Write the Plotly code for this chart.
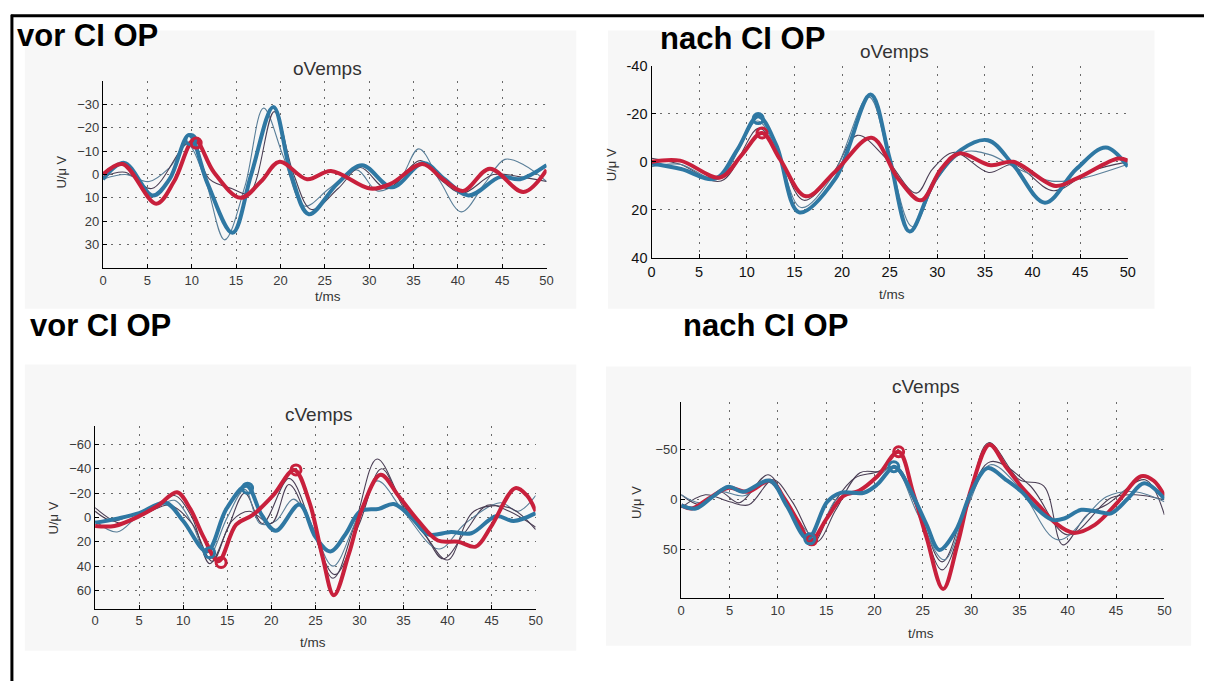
import plotly.graph_objects as go

W, H = 1212, 689

# ---------------- Panel 1: vor CI OP, oVemps ----------------
p1_blue_t = [0, 2.4, 5.6, 7.5, 9.7, 11.8, 14.6, 16.7, 19.2, 21.2, 23.2, 26.4, 29.2, 32.6, 36.1, 38.5, 41.2, 44.8, 47, 50]
p1_blue_v = [2, -5, 9, 2, -17, 4, 25, 0, -29, 0, 17, 4, -4, 5.5, -5, 2, 9, 1, 2, -4]
p1_red_t = [0, 2.2, 6.0, 8.0, 10.3, 12.5, 15.5, 17.8, 19.9, 23, 25.7, 30.1, 32.4, 36, 38.3, 40.6, 43.6, 47.4, 50]
p1_red_v = [0, -4.5, 12.5, 3, -15, -1, 10, 3, -5.5, 2, -1.5, 6, 4, -4.5, 2, 7, -2.5, 7.5, -2]
p1_thinA_t = [0, 2.5, 5.2, 7.5, 9.5, 11.5, 13.7, 16, 18.1, 20.3, 22.7, 25.5, 28.6, 30.9, 33.3, 35.6, 38, 40.4, 43, 45.3, 47.5, 50]
p1_thinA_v = [2, 0, 3, -3, -13, 2, 28, 5, -28.5, -8, 13.5, 6, -2, 7, 3, -11, 3, 16, 4, -6.5, -4, 3]
p1_thinB_t = [0, 2.5, 5.5, 9.8, 12, 14.5, 16.5, 19.3, 21.5, 23.5, 26.5, 29, 32, 35.8, 38, 40.5, 44, 47, 50]
p1_thinB_v = [1, -1, 6, -14, 2, 6, 8, -27, 0, 15, 6, -3, 6, -6, 2, 8, 0, 1, 3]
p1_blue_mark_t = [9.9]
p1_blue_mark_v = [-15]
p1_red_mark_t = [10.5]
p1_red_mark_v = [-13.5]

# ---------------- Panel 2: nach CI OP, oVemps ----------------
p2_blue_t = [0, 3.1, 6.7, 9, 11.2, 13.1, 15.5, 19.3, 23, 25, 27.1, 29.7, 32.5, 35.3, 38, 41.3, 44.6, 47.7, 50]
p2_blue_v = [0.7, 3, 7, -5, -19, -7, 21, 7, -28, -1.4, 29, 8, -5, -9, 1.4, 17, 3, -6, 2]
p2_red_t = [0, 3, 7.2, 9.5, 11.6, 13.5, 16.2, 19.3, 23.1, 25.9, 28.3, 30.4, 32.3, 35.6, 38, 42.4, 44.6, 49, 50]
p2_red_v = [0, -0.5, 6.5, -3, -12, -1, 14.3, 4, -10, 7, 16, 3, -3.5, 1.4, 0, 10, 7, -1.4, -0.5]
p2_thinA_t = [0, 3, 7.3, 11.3, 13.4, 16, 19, 21.6, 24.5, 27.8, 29.5, 31.8, 35.4, 38, 42.2, 46, 50]
p2_thinA_v = [-1.5, 1, 8, -14, -2, 16, 5, -11, -2, 13, 3, -4, 4.4, 1, 12, 4, 0]
p2_thinB_t = [0, 3, 7, 11.1, 13.2, 15.7, 19, 22.8, 25, 27.4, 30, 32.8, 35.5, 38.5, 42, 45, 50]
p2_thinB_v = [2, 1, 7, -17, -4, 19, 6, -27, -1, 27, 7, -4, -3, 3, 8, 7, 1]
p2_blue_mark_t = [11.2]
p2_blue_mark_v = [-18]
p2_red_mark_t = [11.6]
p2_red_mark_v = [-12]

# ---------------- Panel 3: vor CI OP, cVemps ----------------
p3_blue_t = [0, 2.5, 5, 8, 10, 12.7, 14.9, 17.2, 18.9, 20.5, 23.2, 25, 26.7, 28.4, 30.1, 32.2, 33.9, 35.9, 37.8, 40.4, 42.7, 45.5, 47.5, 50]
p3_blue_v = [4.5, 1, -3.5, -12, 3, 28, -7, -26, -2, 11, -10.5, 16, 28, 14, -5, -7, -11, 0, 14, 12, 13, -1, 3, -3.5]
p3_red_t = [0, 2.2, 5, 7.2, 9.3, 10.8, 12.3, 14, 16, 17.9, 20.2, 22.6, 24.3, 25.8, 27.1, 28.8, 30.3, 32.4, 34.4, 36.7, 38.9, 41.2, 43.2, 44.9, 47.7, 49, 50]
p3_red_v = [7, 7, -1, -10, -20.6, -7, 16, 36, 6, -2, -18, -39, -13, 32, 64, 30, -7, -35, -18, 3, 19, 20, 24, 8, -24, -18, -5]
p3_thinA_t = [0, 2, 4.5, 7, 9, 11, 13, 15, 17, 19, 22, 24.5, 27, 29.5, 32, 35, 37.5, 39.5, 42, 44.5, 47, 50]
p3_thinA_v = [-5, 3, -3, -8, -18, 0, 38, 10, -20, 5, -32, 5, 50, 5, -48, -10, 15, 34, 12, -10, -5, 8]
p3_thinB_t = [0, 2.5, 5, 7, 9, 11, 12.8, 15, 17, 18.7, 20.5, 22.5, 24.5, 27, 29.5, 32, 35, 39, 42, 46, 48, 50]
p3_thinB_v = [3, 12, -2, -8, -14, 5, 33, 0, -23, 5, 3, -15, 5, 40, 5, -30, -5, 26, 5, -12, -5, -18]
p3_thinC_t = [0, 3, 6, 8.5, 11, 13.3, 15.5, 17.5, 20, 22, 24.5, 27.2, 30, 32.5, 35, 37.5, 40, 43, 47, 50]
p3_thinC_v = [-8, 5, -4, -10, 5, 36, 3, -5, 5, -27, 8, 47, 5, -40, -8, 15, 35, -5, -8, 10]
p3_blue_mark_t = [13.0, 17.3]
p3_blue_mark_v = [29, -24]
p3_red_mark_t = [14.3, 22.8]
p3_red_mark_v = [37, -39]

# ---------------- Panel 4: nach CI OP, cVemps ----------------
p4_red_t = [0, 1.1, 2.8, 4.9, 6.9, 9.2, 10.7, 12.1, 13.4, 15.1, 16.8, 18.4, 20.3, 22.5, 24, 25.4, 27.1, 28.6, 30, 31.9, 33.6, 35.3, 37, 38.7, 40.6, 42.8, 45.2, 47.6, 48.9, 50]
p4_red_v = [5.5, 8.7, -1, -12, -8, -19, -1, 21.6, 41, 18, -4, -9, -23.5, -48, -7, 38, 89, 44, -10.6, -55, -33, -12, 5.5, 23, 33, 25, 2, -23.5, -19, -4]
p4_blue_t = [0, 1.5, 3.2, 4.9, 6.4, 9.2, 10.9, 13.1, 15.1, 16.5, 18.9, 20.3, 22, 22.6, 24, 25.4, 26.7, 28.4, 30, 31.7, 33.6, 35.3, 36.6, 38.4, 39.7, 41.4, 43.5, 44.5, 46.2, 47.9, 50]
p4_blue_v = [5.5, 8.7, -2.6, -13, -8, -19, 5.5, 39, 2, -7, -7, -15.5, -33, -29, -4, 25, 50, 31, -7.4, -31.6, -20, -7.4, 7, 20, 18.4, 10, 12.6, 13.5, -1, -16.5, -1]
p4_thinA_t = [0, 2, 4, 6, 9, 11, 13.5, 16, 18, 20, 22.3, 24.5, 27, 29.5, 31.8, 35, 37.5, 39.5, 42, 44, 48, 50]
p4_thinA_v = [-5, 5, -8, 3, -25, 5, 44, 0, -22, -27, -33, 10, 70, 10, -57, -20, -14, 45, 15, 5, -20, 15]
p4_thinB_t = [0, 2.5, 5, 7, 9.5, 11.5, 14, 16, 18.5, 20.5, 22, 24.5, 27, 29.5, 32, 36, 40, 44.5, 47, 50]
p4_thinB_v = [8, -5, 2, 5, -20, 2, 42, 10, -27, -28, -32, 10, 62, 5, -38, -15, 35, -2, -5, 0]
p4_thinC_t = [0, 2, 4, 6.5, 9, 11, 13.8, 16, 18, 20, 22, 24.5, 27.2, 29.5, 32, 35, 39, 44, 47, 50]
p4_thinC_v = [-5, 3, -8, -4, -18, 5, 36, 0, -8, -20, -33, 15, 60, 10, -35, -12, 40, -3, -8, 2]
p4_blue_mark_t = [13.3, 22.0]
p4_blue_mark_v = [39, -33]
p4_red_mark_t = [13.5, 22.5]
p4_red_mark_v = [40, -48]

# tick labels
x_ticks = [0, 5, 10, 15, 20, 25, 30, 35, 40, 45, 50]
p1_yticks = [-30, -20, -10, 0, 10, 20, 30]
p2_yticks = [-40, -20, 0, 20, 40]
p2_yticktext = ["-40", "-20", "0", "20", "40"]
p3_yticks = [-60, -40, -20, 0, 20, 40, 60]
p4_yticks = [-50, 0, 50]

panel_titles = ["oVemps", "oVemps", "cVemps", "cVemps"]
headings = ["vor CI OP", "nach CI OP", "vor CI OP", "nach CI OP"]

RED = "#c8203c"
BLUE = "#2f78a3"
THIN_DARK = "#4b3f55"
THIN_BLUE = "#5a7f99"
FONT = "Liberation Sans, Arial, sans-serif"


def fx(p):
    return p / W


def fy(p):
    return 1 - p / H


fig = go.Figure()


def add_line(t, v, i, color, width):
    fig.add_trace(go.Scatter(x=t, y=v, mode="lines", xaxis=f"x{i}", yaxis=f"y{i}",
                             line=dict(color=color, width=width, shape="spline", smoothing=1.0),
                             hoverinfo="skip", showlegend=False))


def add_marks(t, v, i, color):
    fig.add_trace(go.Scatter(x=t, y=v, mode="markers", xaxis=f"x{i}", yaxis=f"y{i}",
                             marker=dict(symbol="circle-open", size=10, color=color,
                                         line=dict(width=3, color=color)),
                             hoverinfo="skip", showlegend=False))


panels = [
    (1, [(p1_thinA_t, p1_thinA_v, THIN_BLUE), (p1_thinB_t, p1_thinB_v, THIN_DARK)],
     (p1_blue_t, p1_blue_v), (p1_red_t, p1_red_v),
     (p1_blue_mark_t, p1_blue_mark_v), (p1_red_mark_t, p1_red_mark_v)),
    (2, [(p2_thinA_t, p2_thinA_v, THIN_DARK), (p2_thinB_t, p2_thinB_v, THIN_BLUE)],
     (p2_blue_t, p2_blue_v), (p2_red_t, p2_red_v),
     (p2_blue_mark_t, p2_blue_mark_v), (p2_red_mark_t, p2_red_mark_v)),
    (3, [(p3_thinA_t, p3_thinA_v, THIN_DARK), (p3_thinB_t, p3_thinB_v, THIN_BLUE),
         (p3_thinC_t, p3_thinC_v, THIN_DARK)],
     (p3_blue_t, p3_blue_v), (p3_red_t, p3_red_v),
     (p3_blue_mark_t, p3_blue_mark_v), (p3_red_mark_t, p3_red_mark_v)),
    (4, [(p4_thinA_t, p4_thinA_v, THIN_DARK), (p4_thinB_t, p4_thinB_v, THIN_DARK),
         (p4_thinC_t, p4_thinC_v, THIN_BLUE)],
     (p4_red_t, p4_red_v), (p4_blue_t, p4_blue_v),
     (p4_red_mark_t, p4_red_mark_v), (p4_blue_mark_t, p4_blue_mark_v)),
]

for i, thins, first, second, m1, m2 in panels:
    for t, v, c in thins:
        add_line(t, v, i, c, 1.1)
    if i == 4:
        add_line(first[0], first[1], i, RED, 4)
        add_line(second[0], second[1], i, BLUE, 4)
        add_marks(m1[0], m1[1], i, RED)
        add_marks(m2[0], m2[1], i, BLUE)
    else:
        add_line(first[0], first[1], i, BLUE, 4)
        add_line(second[0], second[1], i, RED, 4)
        add_marks(m1[0], m1[1], i, BLUE)
        add_marks(m2[0], m2[1], i, RED)

# layout geometry (pixels): plot areas
areas = {
    1: dict(x0=100, x1=548, y0=75, y1=266, yr=[40, -40], yt=p1_yticks, ytt=None),
    2: dict(x0=654, x1=1135, y0=59, y1=256, yr=[40, -40], yt=p2_yticks, ytt=p2_yticktext),
    3: dict(x0=92, x1=537, y0=428, y1=615, yr=[75, -75], yt=p3_yticks, ytt=None),
    4: dict(x0=684, x1=1172, y0=403, y1=604, yr=[98, -98], yt=p4_yticks, ytt=None),
}

layout_axes = {}
for i, a in areas.items():
    if i == 2:
        tf = dict(family=FONT, size=14.5, color="#111")
    else:
        tf = dict(family=FONT, size=13, color="#3a3a3a")
    xa = dict(domain=[fx(a["x0"]), fx(a["x1"])], range=[0, 50], anchor=f"y{i}",
              tickvals=x_ticks, showline=True, linecolor="black", linewidth=1.3,
              ticks="inside", ticklen=4, tickcolor="black", tickfont=tf,
              showgrid=True, gridcolor="#6a6a6a", griddash="2px,6px", gridwidth=1,
              zeroline=False, mirror=False, fixedrange=True)
    ya = dict(domain=[fy(a["y1"]), fy(a["y0"])], range=a["yr"], anchor=f"x{i}",
              tickvals=a["yt"], showline=True, linecolor="black", linewidth=1.3,
              ticks="inside", ticklen=4, tickcolor="black", tickfont=tf,
              showgrid=True, gridcolor="#6a6a6a", griddash="2px,6px", gridwidth=1,
              zeroline=False, mirror=False, fixedrange=True)
    if a["ytt"] is not None:
        ya["ticktext"] = a["ytt"]
    sfx = "" if i == 1 else str(i)
    layout_axes[f"xaxis{sfx}"] = xa
    layout_axes[f"yaxis{sfx}"] = ya

# background scan panels
bg_rects = [(21, 23, 578, 308), (610, 23, 1162, 308), (21, 365, 578, 658), (608, 367, 1199, 653)]
shapes = []
for x0, y0, x1, y1 in bg_rects:
    shapes.append(dict(type="rect", xref="paper", yref="paper", x0=fx(x0), x1=fx(x1),
                       y0=fy(y1), y1=fy(y0), fillcolor="#f7f7f7", line=dict(width=0), layer="below"))
# frame lines
shapes.append(dict(type="line", xref="paper", yref="paper", x0=fx(7), x1=fx(1212), y0=fy(8), y1=fy(8),
                   line=dict(color="black", width=3)))
shapes.append(dict(type="line", xref="paper", yref="paper", x0=fx(8), x1=fx(8), y0=fy(7), y1=fy(689),
                   line=dict(color="black", width=3)))

annotations = []
head_pos = [(11, 28), (661, 31), (24, 325), (684, 325)]
for txt, (x, y) in zip(headings, head_pos):
    annotations.append(dict(text=txt, xref="paper", yref="paper", x=fx(x), y=fy(y),
                            xanchor="left", yanchor="middle", showarrow=False,
                            font=dict(family=FONT, size=31, color="black", weight="bold")))

title_pos = [(327, 62), (899, 45), (318, 416), (931, 387)]
for txt, (x, y) in zip(panel_titles, title_pos):
    annotations.append(dict(text=txt, xref="paper", yref="paper", x=fx(x), y=fy(y),
                            xanchor="center", yanchor="middle", showarrow=False,
                            font=dict(family=FONT, size=19, color="#333")))

ylab_pos = [(58, 168), (613, 160), (50, 522), (639, 506)]
for (x, y) in ylab_pos:
    annotations.append(dict(text="U/\u03bc V", xref="paper", yref="paper", x=fx(x), y=fy(y),
                            xanchor="center", yanchor="middle", showarrow=False, textangle=-90,
                            font=dict(family=FONT, size=13, color="#333")))

xlab_pos = [(327, 295), (897, 293), (312, 650), (926, 640)]
for (x, y) in xlab_pos:
    annotations.append(dict(text="t/ms", xref="paper", yref="paper", x=fx(x), y=fy(y),
                            xanchor="center", yanchor="middle", showarrow=False,
                            font=dict(family=FONT, size=13.5, color="#333")))

fig.update_layout(width=W, height=H, margin=dict(l=0, r=0, t=0, b=0),
                  paper_bgcolor="white", plot_bgcolor="rgba(0,0,0,0)",
                  showlegend=False, shapes=shapes, annotations=annotations, **layout_axes)

fig.write_html("out.html", config=dict(displayModeBar=False),
               post_script="document.body.style.margin='0';document.body.style.padding='0';"
                           "document.body.style.overflow='hidden';")
